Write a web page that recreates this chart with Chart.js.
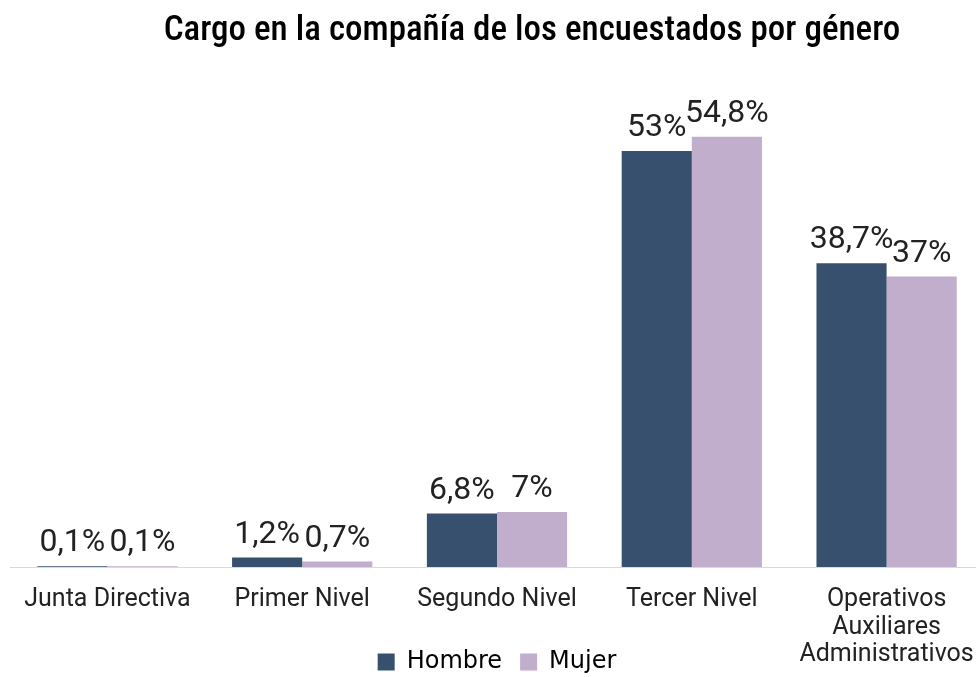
<!DOCTYPE html>
<html>
<head>
<meta charset="utf-8">
<script src="https://cdn.jsdelivr.net/npm/chart.js@4.4.0/dist/chart.umd.min.js"></script>
<style>
html,body{margin:0;padding:0;background:#fff;overflow:hidden;}
#wrap{width:1054px;height:677px;}
</style>
</head>
<body>
<div id="wrap"><canvas id="c" width="1054" height="677"></canvas></div>
<script>
const categories = ["Junta Directiva", "Primer Nivel", "Segundo Nivel", "Tercer Nivel", ["Operativos", "Auxiliares", "Administrativos"]];
const hombre = [0.1, 1.2, 6.8, 53, 38.7];
const mujer = [0.1, 0.7, 7, 54.8, 37];
const seriesNames = ["Hombre", "Mujer"];
const titleText = "Cargo en la compañía de los encuestados por género";

const fmt = v => String(v).replace('.', ',') + '%';

const dataLabels = {
  id: 'dataLabels',
  afterDatasetsDraw(chart) {
    const ctx = chart.ctx;
    ctx.save();
    ctx.font = '400 32px Roboto, sans-serif';
    ctx.fillStyle = '#222222';
    ctx.textAlign = 'center';
    ctx.textBaseline = 'alphabetic';
    chart.data.datasets.forEach((ds, i) => {
      const meta = chart.getDatasetMeta(i);
      meta.data.forEach((bar, j) => {
        ctx.fillText(fmt(ds.data[j]), bar.x, bar.y - 15);
      });
    });
    ctx.restore();
  }
};

new Chart(document.getElementById('c'), {
  type: 'bar',
  data: {
    labels: categories,
    datasets: [
      { label: seriesNames[0], data: hombre, backgroundColor: '#37506d', categoryPercentage: 0.72, barPercentage: 1.0 },
      { label: seriesNames[1], data: mujer, backgroundColor: '#c1aecd', categoryPercentage: 0.72, barPercentage: 1.0 }
    ]
  },
  options: {
    responsive: false,
    animation: false,
    layout: { padding: { left: 10, right: 0, top: 0, bottom: -7 } },
    plugins: {
      title: {
        display: true,
        text: titleText,
        color: '#000',
        font: { family: 'Roboto, sans-serif', size: 35, weight: 'condensed 500', lineHeight: 1.2 },
        padding: { top: 10, bottom: 44 }
      },
      legend: {
        position: 'bottom',
        fullSize: false,
        labels: {
          color: '#000',
          font: { family: '"DejaVu Sans", sans-serif', size: 24 },
          boxWidth: 17, boxHeight: 17,
          padding: 18
        }
      },
      tooltip: { enabled: false }
    },
    scales: {
      x: {
        grid: { display: false },
        border: { display: true, color: '#d9d9d9', width: 1 },
        ticks: { color: '#222222', font: { family: 'Roboto, sans-serif', size: 25, lineHeight: 1.1 }, padding: 11, maxRotation: 0, autoSkip: false },
        afterFit(scale) { scale.height = 65; scale._computeLabelArea = () => undefined; }
      },
      y: {
        display: true,
        position: 'right',
        min: 0, max: 60,
        ticks: { display: false },
        grid: { display: false },
        border: { display: false },
        afterFit(scale) { scale.width = 70; }
      }
    }
  },
  plugins: [dataLabels]
});
</script>
</body>
</html>
